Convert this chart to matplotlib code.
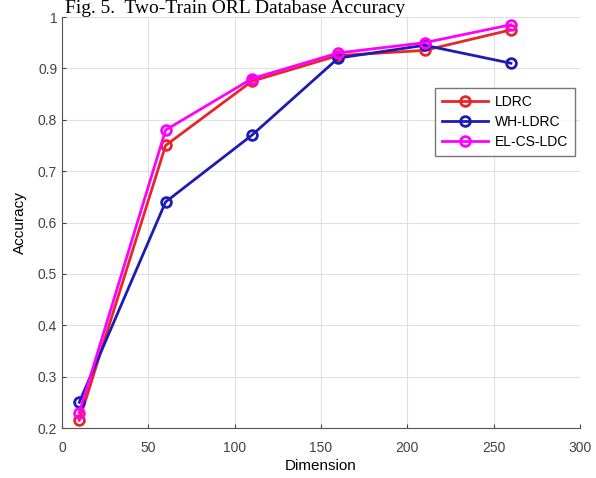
import numpy as np
import matplotlib
matplotlib.use("Agg")
from matplotlib import pyplot as plt

dims = [10, 60, 110, 160, 210, 260]
ldrc = [0.215, 0.75, 0.875, 0.925, 0.935, 0.975]
wh_ldrc = [0.25, 0.64, 0.77, 0.92, 0.945, 0.91]
el_cs_ldc = [0.23, 0.78, 0.88, 0.93, 0.95, 0.985]

fig = plt.figure(figsize=(5.96, 4.78), dpi=100)
ax = fig.add_axes([62/596, 50/478, 518/596, 411/478])

ax.plot(dims, ldrc, '-o', color='#e8262a', lw=2, ms=7, mfc='none', mew=2, label='LDRC')
ax.plot(dims, wh_ldrc, '-o', color='#1c1cb4', lw=2, ms=7, mfc='none', mew=2, label='WH-LDRC')
ax.plot(dims, el_cs_ldc, '-o', color='#ff00ff', lw=2, ms=7, mfc='none', mew=2, label='EL-CS-LDC')

ax.set_xlim(0, 300)
ax.set_ylim(0.2, 1.0)
ax.set_xticks(np.arange(0, 301, 50))
ax.set_yticks(np.arange(0.2, 1.01, 0.1))
ax.set_yticklabels(['0.2', '0.3', '0.4', '0.5', '0.6', '0.7', '0.8', '0.9', '1'])
ax.grid(True, color='#e0e0e0', lw=0.8)
ax.set_axisbelow(True)
for s in ['top', 'right']:
    ax.spines[s].set_visible(False)
for s in ['left', 'bottom']:
    ax.spines[s].set_color('#555555')
ax.tick_params(labelsize=10, colors='#444444', direction='in', length=3)
ax.tick_params(axis='x', pad=9)
ax.set_xlabel('Dimension', fontsize=11, family='Liberation Sans', labelpad=3)
ax.set_ylabel('Accuracy', fontsize=11, family='Liberation Sans', labelpad=8)
for t in ax.get_xticklabels() + ax.get_yticklabels():
    t.set_family('Liberation Sans')

leg = ax.legend(loc='upper right', bbox_to_anchor=(0.99, 0.828),
                frameon=True, fancybox=False, edgecolor='#555555',
                prop={'family': 'Liberation Sans', 'size': 10},
                handlelength=3.3, labelspacing=0.45, borderaxespad=0,
                handletextpad=0.5, borderpad=0.5)

fig.text(235/596, 1.0, 'Fig. 5.  Two-Train ORL Database Accuracy',
         ha='center', va='top', fontsize=14, family='Liberation Serif')

fig.savefig('out.png', dpi=100)
